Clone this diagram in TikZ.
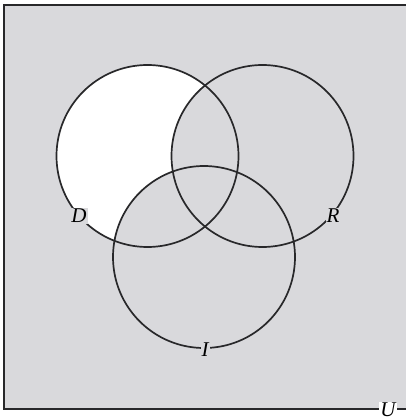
\documentclass[tikz,border=0pt]{standalone}
\usepackage{fontspec}
\setmainfont{Liberation Serif}
\usetikzlibrary{positioning}
\definecolor{venngray}{RGB}{217,217,220}
\definecolor{vennline}{RGB}{40,40,42}

\begin{document}
\begin{tikzpicture}[
  x=1pt, y=-1pt,
  lbl/.style={font=\fontsize{21}{23}\selectfont\itshape, inner sep=1pt, fill=venngray},
  ulbl/.style={font=\fontsize{21}{23}\selectfont\itshape, inner sep=1pt, fill=white},
  setline/.style={draw=vennline, line width=1.7pt},
  boxline/.style={draw=vennline, line width=2pt}
]
\useasboundingbox (0,0) rectangle (405,419);

% universe
\fill[venngray] (4,5) rectangle (412,409);
% D only
\fill[white] (147.5,156) circle (91);
\fill[venngray] (262.5,156) circle (91);
\fill[venngray] (204,257) circle (91);
\draw[boxline] (412,5) -- (4,5) -- (4,409) -- (412,409);

\draw[setline] (147.5,156) circle (91);
\draw[setline] (262.5,156) circle (91);
\draw[setline] (204,257) circle (91);

\node[lbl] (labD) at (79,216) {D};
\node[lbl] (labR) at (333,216) {R};
\node[lbl] (labI) at (205,350) {I};
\node[ulbl] (labU) at (388,410) {U};

\end{tikzpicture}
\end{document}
